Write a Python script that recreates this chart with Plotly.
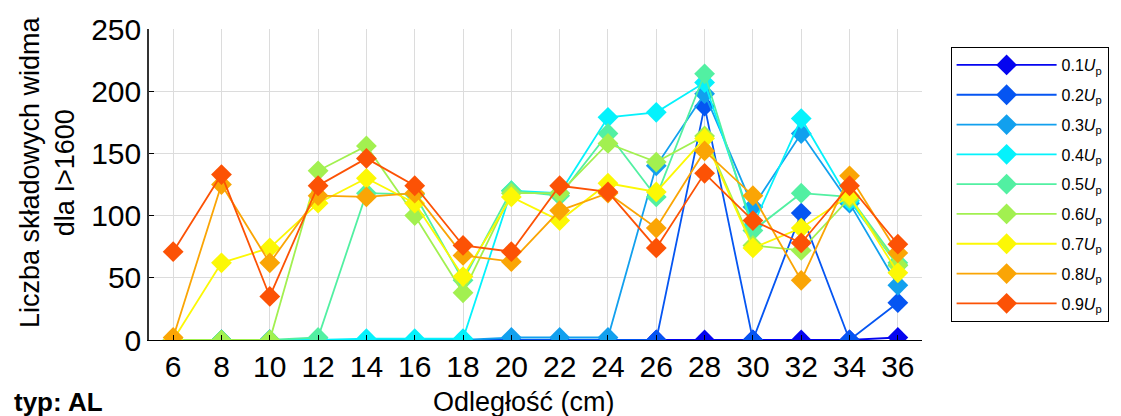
import plotly.graph_objects as go

# Distance from the source (cm)
distance = [6, 8, 10, 12, 14, 16, 18, 20, 22, 24, 26, 28, 30, 32, 34, 36]

# Number of spectral components with I > 1600, per voltage level
u01 = [0, 0, 0, 0, 0, 0, 0, 0, 0, 0, 0, 0, 0, 0, 0, 2]
u02 = [0, 0, 0, 0, 0, 0, 0, 0, 0, 0, 0, 188, 0, 102, 0, 30]
u03 = [0, 0, 0, 0, 0, 0, 0, 2, 2, 2, 140, 198, 107, 166, 110, 44]
u04 = [0, 0, 0, 0, 1, 1, 1, 120, 118, 179, 183, 207, 92, 178, 112, 60]
u05 = [0, 0, 0, 2, 118, 117, 48, 120, 116, 166, 115, 214, 88, 118, 115, 62]
u06 = [0, 0, 0, 136, 156, 100, 38, 118, 118, 158, 143, 164, 76, 72, 114, 60]
u07 = [0, 62, 74, 110, 130, 110, 51, 115, 96, 126, 119, 162, 74, 90, 116, 54]
u08 = [2, 125, 62, 116, 115, 118, 68, 63, 104, 118, 90, 152, 116, 48, 132, 70]
u09 = [71, 133, 35, 124, 146, 124, 76, 71, 124, 119, 74, 134, 96, 78, 124, 77]

series_labels = ["0.1", "0.2", "0.3", "0.4", "0.5", "0.6", "0.7", "0.8", "0.9"]
series_values = [u01, u02, u03, u04, u05, u06, u07, u08, u09]
series_colors = ["#0505f0", "#0555f2", "#12a0ee", "#05f2fc", "#52f0a2",
                 "#a2f050", "#fcf805", "#faa505", "#fc5205"]

fig = go.Figure()
for i, (lab, vals, col) in enumerate(zip(series_labels, series_values, series_colors)):
    fig.add_trace(go.Scatter(
        x=distance, y=vals, mode="lines+markers",
        name=f"{lab}<i>U</i><sub>p</sub>",
        legendgroup=f"g{i}",
        line=dict(color=col, width=1.8),
        marker=dict(symbol="diamond", size=16, color=col, line=dict(width=0)),
    ))

font_main = "Arial, Liberation Sans, sans-serif"

fig.update_layout(
    width=1121, height=416,
    margin=dict(l=149, r=197, t=29, b=76),
    paper_bgcolor="white", plot_bgcolor="white",
    font=dict(family=font_main, color="black"),
    showlegend=True,
    legend=dict(
        x=1.037, y=0.942, xanchor="left", yanchor="top",
        bordercolor="black", borderwidth=1, bgcolor="white",
        font=dict(size=16, family=font_main),
        itemwidth=100, tracegroupgap=6,
        traceorder="grouped",
    ),
    xaxis=dict(
        range=[5, 37], tickmode="array", tickvals=distance,
        ticktext=[str(v) for v in distance],
        tickfont=dict(size=30), ticks="inside", ticklen=5, tickcolor="black",
        showline=True, linecolor="black", linewidth=1,
        showgrid=True, gridcolor="#dcdcdc", gridwidth=1, zeroline=False,
    ),
    yaxis=dict(
        range=[0, 250], tickvals=[0, 50, 100, 150, 200, 250],
        tickfont=dict(size=30), ticks="inside", ticklen=5, tickcolor="black",
        showline=True, linecolor="#333333", linewidth=1.5,
        showgrid=True, gridcolor="#dcdcdc", gridwidth=1, zeroline=False,
    ),
    annotations=[
        dict(text="Liczba składowych widma<br>dla I>1600", textangle=-90,
             xref="paper", yref="paper", x=-0.132, y=0.54,
             xanchor="center", yanchor="middle", showarrow=False,
             font=dict(size=27)),
        dict(text="Odległość (cm)", xref="paper", yref="paper",
             x=0.485, y=-0.2, xanchor="center", yanchor="middle",
             showarrow=False, font=dict(size=27)),
        dict(text="<b>typ: AL</b>", xref="paper", yref="paper",
             x=-0.177, y=-0.2, xanchor="left", yanchor="middle",
             showarrow=False, font=dict(size=26)),
    ],
)

fig.write_html("out.html")
